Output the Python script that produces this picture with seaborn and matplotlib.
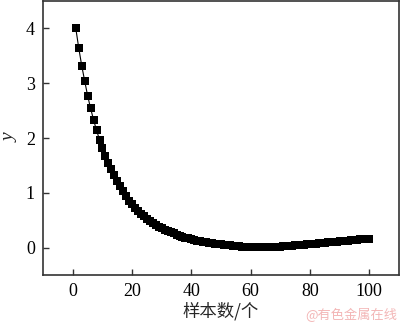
import matplotlib
matplotlib.use("Agg")
import matplotlib.pyplot as plt
import seaborn as sns
import pandas as pd

samples = list(range(1, 101))
y_values = [
    4.00, 3.64, 3.32, 3.04, 2.77, 2.54, 2.33, 2.14, 1.97, 1.82,
    1.68, 1.55, 1.43, 1.32, 1.22, 1.12, 1.03, 0.94, 0.86, 0.79,
    0.73, 0.67, 0.62, 0.57, 0.53, 0.49, 0.45, 0.42, 0.38, 0.35,
    0.33, 0.30, 0.28, 0.26, 0.24, 0.22, 0.20, 0.18, 0.17, 0.15,
    0.14, 0.13, 0.12, 0.11, 0.10, 0.09, 0.08, 0.07, 0.065, 0.06,
    0.05, 0.045, 0.04, 0.035, 0.03, 0.025, 0.02, 0.02, 0.015, 0.015,
    0.01, 0.01, 0.01, 0.01, 0.01, 0.012, 0.014, 0.016, 0.018, 0.02,
    0.024, 0.028, 0.032, 0.036, 0.04, 0.045, 0.05, 0.055, 0.06, 0.065,
    0.07, 0.075, 0.08, 0.085, 0.09, 0.095, 0.10, 0.105, 0.11, 0.115,
    0.12, 0.125, 0.13, 0.135, 0.14, 0.145, 0.15, 0.155, 0.16, 0.165,
]
x_ticks = [0, 20, 40, 60, 80, 100]
y_ticks = [0, 1, 2, 3, 4]
x_label = "样本数/个"
y_label = "y"
watermark = "@有色金属在线"

df = pd.DataFrame({"n": samples, "y": y_values})

sns.set_style("ticks")
plt.rcParams["font.family"] = ["Liberation Serif", "Noto Sans CJK SC"]

fig = plt.figure(figsize=(4.0, 3.24), dpi=100)
ax = fig.add_axes([0.108, 0.151, 0.889, 0.846])

sns.lineplot(data=df, x="n", y="y", ax=ax, color="black", linewidth=0.8,
             marker="s", markersize=5.8, markeredgewidth=0, markerfacecolor="black")

ax.set_xlim(-10, 110)
ax.set_ylim(-0.5, 4.5)
ax.set_xticks(x_ticks)
ax.set_yticks(y_ticks)
ax.tick_params(direction="in", length=4, width=1, colors="#333333",
               labelsize=13, labelcolor="black", pad=6)
for s in ax.spines.values():
    s.set_color("#333333")
    s.set_linewidth(1.2)
    s.set_visible(True)

ax.set_xlabel(x_label, fontsize=12.5, family=["Noto Sans CJK SC"], labelpad=1)
ax.set_ylabel(y_label, fontsize=14, fontstyle="italic", labelpad=5)

fig.text(0.993, 0.028, watermark, ha="right", va="center", fontsize=9.5,
         color="#f3b6b6", family=["Noto Sans CJK SC", "DejaVu Sans"])

fig.savefig("out.png", dpi=100)
